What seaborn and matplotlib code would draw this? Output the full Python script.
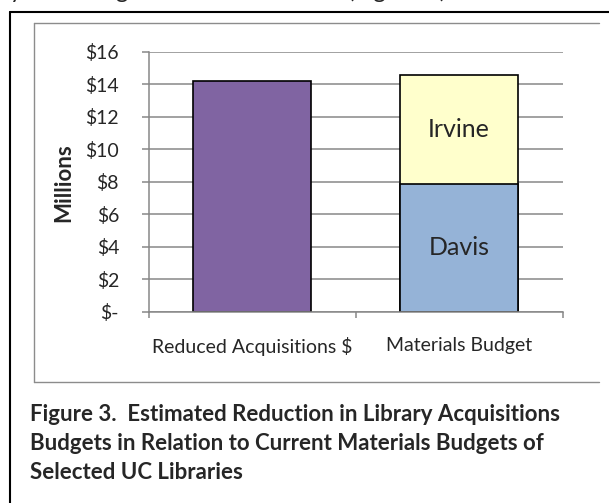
import matplotlib
matplotlib.use("Agg")
import matplotlib.pyplot as plt
import seaborn as sns
import pandas as pd
from matplotlib.lines import Line2D

# values in millions of dollars
categories = ["Reduced Acquisitions $", "Materials Budget"]
reduced = [14.2]
davis = [7.85]
irvine = [6.7]
y_ticks = [0, 2, 4, 6, 8, 10, 12, 14, 16]
y_ticklabels = ["$-", "$2", "$4", "$6", "$8", "$10", "$12", "$14", "$16"]
caption = ["Figure 3.  Estimated Reduction in Library Acquisitions",
           "Budgets in Relation to Current Materials Budgets of",
           "Selected UC Libraries"]

sns.set_style("white")
plt.rcParams["font.family"] = ["Lato", "DejaVu Sans"]

W, H = 609, 503
fig = plt.figure(figsize=(W / 100, H / 100), dpi=100)


def fx(px):
    return px / W


def fy(py):
    return 1 - py / H


grid_gray = "#878787"
ax = fig.add_axes([fx(148.5), fy(311.7), fx(562.7) - fx(148.5), fy(51.5) - fy(311.7)])
ax.set_axisbelow(True)

totals = pd.DataFrame({"category": categories, "value": [reduced[0], davis[0] + irvine[0]]})
sns.barplot(data=totals, x="category", y="value", hue="category", order=categories,
            palette=["#8064A2", "#FFFFCC"], saturation=1, width=0.57, edgecolor="black",
            linewidth=1.2, legend=False, ax=ax)
lower = pd.DataFrame({"category": [categories[1]], "value": davis})
sns.barplot(data=lower, x="category", y="value", order=categories, color="#95B3D7",
            saturation=1, width=0.57, edgecolor="black", linewidth=1.2, ax=ax)

ax.set_ylim(0, 16)
ax.set_xlim(-0.5, 1.5)
ax.set_yticks(y_ticks)
ax.set_yticklabels(y_ticklabels, fontsize=14)
ax.set_xticks([0, 1])
ax.set_xticklabels(categories, fontsize=14)
ax.set_xticks([-0.5, 0.5, 1.5], minor=True)
ax.set_xlabel("")
ax.set_ylabel("")
ax.yaxis.grid(True, color=grid_gray, linewidth=1.1)
ax.tick_params(axis="y", length=4.7, width=1.1, color=grid_gray, pad=16.5, direction="out", left=True)
ax.tick_params(axis="x", which="major", length=0, pad=18)
ax.tick_params(axis="x", which="minor", length=4.5, width=1.1, color=grid_gray, direction="out", bottom=True)
for side in ["top", "right"]:
    ax.spines[side].set_visible(False)
for side in ["left", "bottom"]:
    ax.spines[side].set_color(grid_gray)
    ax.spines[side].set_linewidth(1.1)

ax.text(1, davis[0] + irvine[0] / 2, "Irvine", ha="center", va="center", fontsize=18)
ax.text(1, davis[0] / 2, "Davis", ha="center", va="center", fontsize=18)

fig.text(fx(63.3), fy(183), "Millions", rotation=90, ha="center", va="center",
         fontsize=16, fontweight="bold")

# chart frame and page box
gray = "#8c8c8c"
fig.add_artist(Line2D([fx(34.3), fx(599)], [fy(22.7), fy(22.7)], color=gray, lw=1.0))
fig.add_artist(Line2D([fx(34.3), fx(599)], [fy(381.7), fy(381.7)], color=gray, lw=1.0))
fig.add_artist(Line2D([fx(34.3), fx(34.3)], [fy(22.7), fy(381.7)], color=gray, lw=1.0))
fig.add_artist(Line2D([fx(10), 1.01], [fy(11.7), fy(11.7)], color="black", lw=1.5))
fig.add_artist(Line2D([fx(10), fx(10)], [fy(11.7), -0.01], color="black", lw=1.5))

# bottom of the preceding line of page text, cut off at the top
for x, s in [(10, "y"), (115, "g"), (348, "(Figure 3)")]:
    fig.text(fx(x), fy(-1.5), s, ha="left", va="baseline", fontsize=17)

for i, line in enumerate(caption):
    fig.text(fx(30), fy(420.7 + 29.3 * i), line, ha="left", va="baseline",
             fontsize=16, fontweight="bold")

fig.savefig("out.png", dpi=100)
